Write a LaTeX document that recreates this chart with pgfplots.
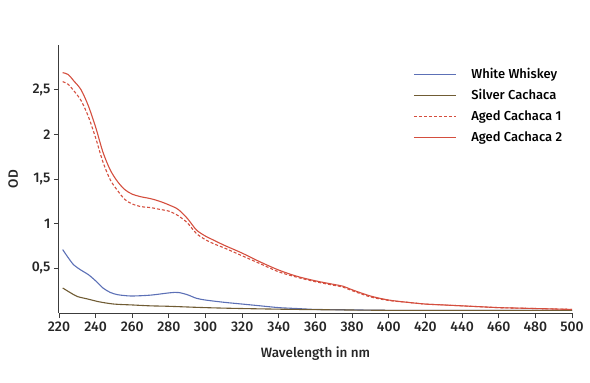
\documentclass[border=0pt]{standalone}
\usepackage{pgfplots}
\pgfplotsset{compat=1.18}
\usepackage{fontspec}
\setmainfont{Fira Sans}
\newfontfamily\medfont{Fira Sans Medium}
\definecolor{cred}{RGB}{212,78,62}
\definecolor{cblue}{RGB}{92,112,182}
\definecolor{cbrown}{RGB}{112,92,52}
\definecolor{caxis}{RGB}{60,60,60}
\begin{document}
\begin{tikzpicture}
\begin{axis}[
  name=ax,
  scale only axis,
  width=513pt, height=268pt,
  xmin=220, xmax=500, ymin=0, ymax=3,
  axis x line*=bottom, axis y line*=left,
  axis line style={caxis, line width=1pt},
  tick style={caxis, line width=0.9pt},
  tick align=outside,
  major tick length=5pt,
  xtick={220,240,...,500},
  ytick={0.5,1,1.5,2,2.5},
  yticklabels={{0,5},1,{1,5},2,{2,5}},
  /pgf/number format/assume math mode=true,
  ticklabel style={font=\medfont\fontsize{14}{16}\selectfont, text=black!85},
  xlabel={Wavelength in nm},
  ylabel={OD},
  label style={font=\medfont\fontsize{13.5}{16}\selectfont, text=black!85},
  xlabel style={yshift=-9pt},
  ylabel style={yshift=7pt},
  legend style={draw=none, fill=none, at={(0.69,0.914)}, anchor=north west,
    font=\medfont\fontsize{13}{15}\selectfont, row sep=8pt, inner sep=0pt,
    nodes={text height=10pt, text depth=3pt, inner sep=0pt}},
  legend cell align=left,
  legend image code/.code={\draw[#1, line width=1.3pt] (0pt,0pt) -- (42pt,0pt); \path (57pt,0pt);},
  every axis plot/.append style={line width=1.1pt, smooth},
]
\addplot[cblue] coordinates {
(222,0.71) (225,0.62) (228,0.54) (232,0.48) (236,0.43) (240,0.36) (244,0.28) (248,0.23) (252,0.205) (256,0.195) (260,0.19) (270,0.20) (280,0.225) (285,0.23) (290,0.205) (295,0.165) (300,0.145) (310,0.12) (320,0.10) (330,0.08) (340,0.06) (350,0.05) (360,0.04) (380,0.035) (400,0.03) (450,0.03) (500,0.03)};
\addlegendentry{White Whiskey}
\addplot[cbrown] coordinates {
(222,0.28) (226,0.23) (230,0.185) (236,0.155) (242,0.125) (250,0.10) (260,0.09) (270,0.08) (280,0.075) (300,0.06) (320,0.05) (350,0.04) (400,0.03) (450,0.03) (500,0.03)};
\addlegendentry{Silver Cachaca}
\addplot[cred, dashed, dash pattern=on 3pt off 2pt] coordinates {
(222,2.59) (225,2.56) (228,2.49) (232,2.38) (236,2.20) (240,1.96) (244,1.69) (248,1.49) (252,1.37) (256,1.27) (260,1.22) (265,1.19) (270,1.18) (275,1.16) (280,1.14) (285,1.09) (290,1.01) (295,0.89) (300,0.82) (305,0.77) (310,0.73) (320,0.64) (330,0.55) (340,0.46) (350,0.40) (360,0.35) (370,0.31) (375,0.29) (380,0.25) (390,0.18) (400,0.14) (410,0.12) (420,0.10) (430,0.09) (440,0.08) (450,0.07) (460,0.06) (470,0.055) (480,0.05) (490,0.045) (500,0.04)};
\addlegendentry{Aged Cachaca 1}
\addplot[cred] coordinates {
(222,2.69) (225,2.67) (228,2.60) (232,2.50) (236,2.32) (240,2.08) (244,1.80) (248,1.60) (252,1.47) (256,1.38) (260,1.33) (265,1.30) (270,1.28) (275,1.25) (280,1.21) (285,1.16) (290,1.06) (295,0.93) (300,0.86) (305,0.81) (310,0.76) (320,0.67) (330,0.57) (340,0.48) (350,0.41) (360,0.36) (370,0.32) (375,0.30) (380,0.26) (390,0.19) (400,0.145) (410,0.12) (420,0.10) (430,0.09) (440,0.08) (450,0.07) (460,0.06) (470,0.055) (480,0.05) (490,0.045) (500,0.04)};
\addlegendentry{Aged Cachaca 2}
\end{axis}
\pgfresetboundingbox
\useasboundingbox ([xshift=-59pt,yshift=-70pt]ax.south west) rectangle ++(590pt,383pt);
\end{tikzpicture}
\end{document}
